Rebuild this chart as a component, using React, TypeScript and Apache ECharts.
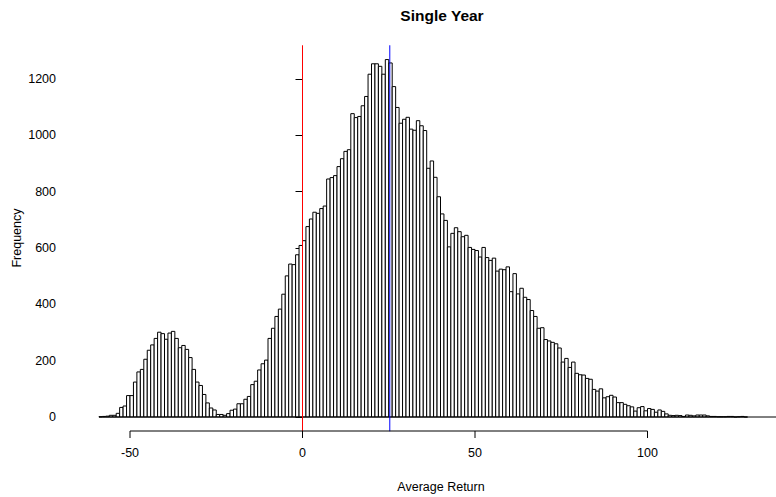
import React, { useEffect, useRef } from "react";
import * as echarts from "echarts";

// Histogram: bins of width 1, first bin starts at -59
const binStart = -59;
const binWidth = 1;
const counts = [
  1, 2, 3, 6, 6, 13, 34, 39, 76, 76,
  124, 160, 169, 205, 237, 256, 279, 301, 296, 276,
  298, 304, 279, 246, 254, 240, 211, 169, 124, 112,
  80, 50, 32, 25, 9, 9, 6, 12, 24, 28,
  47, 47, 63, 73, 115, 127, 167, 189, 202, 279,
  315, 357, 383, 436, 501, 543, 541, 576, 609, 626,
  676, 703, 727, 723, 740, 749, 845, 850, 857, 889,
  917, 943, 949, 1077, 1063, 1067, 1105, 1138, 1217, 1254,
  1254, 1245, 1217, 1269, 1257, 1173, 1099, 1043, 1057, 1064,
  1022, 1018, 1052, 1034, 1017, 883, 909, 851, 782, 721,
  698, 604, 652, 672, 658, 640, 645, 602, 595, 591,
  568, 602, 566, 556, 564, 518, 525, 523, 533, 445,
  509, 437, 457, 425, 417, 378, 357, 315, 317, 275,
  270, 265, 260, 245, 195, 208, 176, 195, 155, 150,
  149, 137, 134, 98, 92, 100, 68, 72, 77, 71,
  51, 51, 45, 40, 36, 21, 33, 37, 22, 30,
  27, 17, 25, 20, 11, 6, 5, 6, 5, 2,
  7, 6, 4, 7, 7, 7, 4, 2, 2, 1,
  1, 1, 2, 2, 0, 1, 2, 0,
];

const xTicks = [-50, 0, 50, 100];
const yTicks = [0, 200, 400, 600, 800, 1000, 1200];
const zeroLine = 0;
const meanLine = 25.3;

const titleText = "Single Year";
const xLabel = "Average Return";
const yLabel = "Frequency";

const FONT = "'Liberation Sans', Arial, sans-serif";

export default function App() {
  const ref = useRef<HTMLDivElement>(null);

  useEffect(() => {
    if (!ref.current) return;
    const chart = echarts.init(ref.current, undefined, { renderer: "svg" });

    const bins = counts.map((c, i) => [binStart + i * binWidth, c]);
    const maxCount = Math.max(...counts);
    const yHigh = maxCount * 1.04;
    const yLow = -maxCount * 0.04;
    const lastEdge = binStart + counts.length * binWidth;

    // data x-range of main grid (72px .. 776px)
    const pxPerUnit = 3.45;
    const zeroPx = 302.5;
    const xMin = (72 - zeroPx) / pxPerUnit;
    const xMax = (776 - zeroPx) / pxPerUnit;
    const tickLen = 7;

    const option: any = {
      animation: false,
      backgroundColor: "#ffffff",
      textStyle: { fontFamily: FONT },
      grid: [
        { left: 72, right: 0, top: 79, bottom: 80 },
        { left: 130, width: 517.5, top: 45, bottom: 66 },
      ],
      xAxis: [
        { type: "value", gridIndex: 0, min: xMin, max: xMax, show: false },
        {
          type: "value",
          gridIndex: 1,
          show: true,
          min: xTicks[0],
          max: xTicks[xTicks.length - 1],
          interval: xTicks[1] - xTicks[0],
          position: "bottom",
          axisLine: { show: false },
          axisTick: { show: false },
          axisLabel: {
            show: true,
            color: "#000",
            fontSize: 12.5,
            fontFamily: FONT,
            margin: 15,
            formatter: (v: number) => String(v),
          },
          splitLine: { show: false },
        },
      ],
      yAxis: [
        {
          type: "value",
          gridIndex: 0,
          min: yTicks[0],
          max: yTicks[yTicks.length - 1],
          interval: yTicks[1] - yTicks[0],
          axisLine: { show: true, lineStyle: { color: "#000", width: 1 } },
          axisTick: { show: true, length: tickLen, lineStyle: { color: "#000", width: 1 } },
          axisLabel: {
            color: "#000",
            fontSize: 12.5,
            fontFamily: FONT,
            margin: 16,
            formatter: (v: number) => String(v),
          },
          splitLine: { show: false },
        },
        { type: "value", gridIndex: 1, min: 0, max: 1, show: false },
      ],
      graphic: [
        {
          type: "text",
          x: 442,
          y: 15,
          style: {
            text: titleText,
            fontFamily: FONT,
            fontWeight: "bold",
            fontSize: 15.5,
            fill: "#000",
            textAlign: "center",
            textVerticalAlign: "middle",
          },
        },
        {
          type: "text",
          x: 441,
          y: 487,
          style: {
            text: xLabel,
            fontFamily: FONT,
            fontSize: 12.5,
            fill: "#000",
            textAlign: "center",
            textVerticalAlign: "middle",
          },
        },
        {
          type: "text",
          x: 17,
          y: 238,
          rotation: Math.PI / 2,
          style: {
            text: yLabel,
            fontFamily: FONT,
            fontSize: 12.5,
            fill: "#000",
            textAlign: "center",
            textVerticalAlign: "middle",
          },
        },
      ],
      series: [
        {
          type: "custom",
          xAxisIndex: 0,
          yAxisIndex: 0,
          clip: false,
          data: bins,
          renderItem: (params: any, api: any) => {
            const x0 = api.value(0);
            const c = api.value(1);
            const p0 = api.coord([x0, 0]);
            const p1 = api.coord([x0 + binWidth, c]);
            return {
              type: "rect",
              shape: { x: p0[0], y: p1[1], width: p1[0] - p0[0], height: p0[1] - p1[1] },
              style: { fill: "#ffffff", stroke: "#000", lineWidth: 1 },
            };
          },
        },
        {
          type: "custom",
          xAxisIndex: 0,
          yAxisIndex: 0,
          clip: false,
          data: [[binStart, 0]],
          renderItem: (params: any, api: any) => {
            const a = api.coord([binStart, 0]);
            const b = api.coord([Math.max(lastEdge, xMax), 0]);
            return {
              type: "line",
              shape: { x1: a[0], y1: a[1], x2: b[0], y2: b[1] },
              style: { stroke: "#000", lineWidth: 1 },
            };
          },
        },
        {
          type: "custom",
          xAxisIndex: 0,
          yAxisIndex: 0,
          clip: false,
          data: [
            [zeroLine, 0],
            [meanLine, 1],
          ],
          renderItem: (params: any, api: any) => {
            const v = api.value(0);
            const which = api.value(1);
            const a = api.coord([v, yLow]);
            const b = api.coord([v, yHigh]);
            return {
              type: "line",
              shape: { x1: a[0], y1: a[1], x2: b[0], y2: b[1] },
              style: { stroke: which === 0 ? "#ff0000" : "#0000ff", lineWidth: 1 },
            };
          },
        },
        {
          // R-style x axis: line from first to last tick, with outward ticks
          type: "custom",
          xAxisIndex: 1,
          yAxisIndex: 1,
          clip: false,
          data: [[xTicks[0], 0]],
          renderItem: (params: any, api: any) => {
            const a = api.coord([xTicks[0], 0]);
            const b = api.coord([xTicks[xTicks.length - 1], 0]);
            const children: any[] = [
              {
                type: "line",
                shape: { x1: a[0], y1: a[1], x2: b[0], y2: b[1] },
                style: { stroke: "#000", lineWidth: 1 },
              },
            ];
            xTicks.forEach((t) => {
              const p = api.coord([t, 0]);
              children.push({
                type: "line",
                shape: { x1: p[0], y1: p[1], x2: p[0], y2: p[1] + tickLen },
                style: { stroke: "#000", lineWidth: 1 },
              });
            });
            return { type: "group", children };
          },
        },
      ],
    };

    chart.setOption(option);
    return () => chart.dispose();
  }, []);

  return (
    <div
      ref={ref}
      style={{ position: "fixed", left: 0, top: 0, width: 776, height: 497, background: "#fff" }}
    />
  );
}
